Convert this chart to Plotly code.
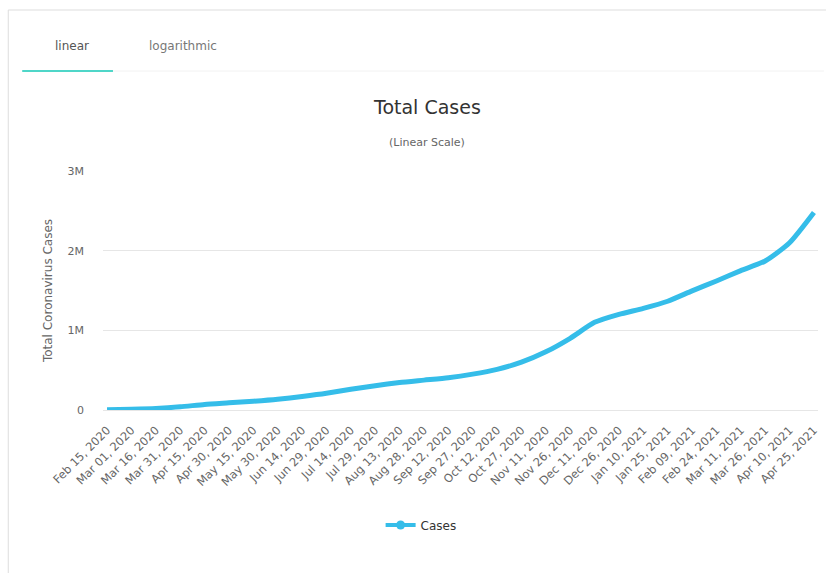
import plotly.graph_objects as go

# Cumulative cases at each 15-day tick date
dates = [
    "2020-02-15", "2020-03-01", "2020-03-16", "2020-03-31", "2020-04-15",
    "2020-04-30", "2020-05-15", "2020-05-30", "2020-06-14", "2020-06-29",
    "2020-07-14", "2020-07-29", "2020-08-13", "2020-08-28", "2020-09-12",
    "2020-09-27", "2020-10-12", "2020-10-27", "2020-11-11", "2020-11-26",
    "2020-12-11", "2020-12-26", "2021-01-10", "2021-01-25", "2021-02-09",
    "2021-02-24", "2021-03-11", "2021-03-26", "2021-04-10", "2021-04-25",
]
tick_labels = [
    "Feb 15, 2020", "Mar 01, 2020", "Mar 16, 2020", "Mar 31, 2020", "Apr 15, 2020",
    "Apr 30, 2020", "May 15, 2020", "May 30, 2020", "Jun 14, 2020", "Jun 29, 2020",
    "Jul 14, 2020", "Jul 29, 2020", "Aug 13, 2020", "Aug 28, 2020", "Sep 12, 2020",
    "Sep 27, 2020", "Oct 12, 2020", "Oct 27, 2020", "Nov 11, 2020", "Nov 26, 2020",
    "Dec 11, 2020", "Dec 26, 2020", "Jan 10, 2021", "Jan 25, 2021", "Feb 09, 2021",
    "Feb 24, 2021", "Mar 11, 2021", "Mar 26, 2021", "Apr 10, 2021", "Apr 25, 2021",
]
cases = [
    3000, 10000, 20000, 40000, 70000,
    90000, 110000, 135000, 170000, 210000,
    260000, 305000, 345000, 375000, 405000,
    450000, 510000, 600000, 730000, 900000,
    1100000, 1200000, 1275000, 1365000, 1495000,
    1620000, 1750000, 1870000, 2100000, 2480000,
]
y_ticks = [0, 1000000, 2000000, 3000000]
y_tick_labels = ["0", "1M", "2M", "3M"]

W, H = 826, 573
L, R, T, B = 103, 820, 171, 410  # plot area in pixels
LINE_COLOR = "#35bde9"
FONT = "DejaVu Sans"


def px(x):
    return (x - L) / (R - L)


def py(y):
    return (B - y) / (B - T)


fig = go.Figure()
fig.add_trace(go.Scatter(
    x=dates, y=cases, mode="lines", name="Cases", showlegend=False,
    line=dict(color=LINE_COLOR, width=5, shape="spline", smoothing=0.6),
    hoverinfo="x+y",
))
# legend entry with the line-and-dot symbol
fig.add_trace(go.Scatter(
    x=[None], y=[None], mode="lines+markers", name="Cases",
    line=dict(color=LINE_COLOR, width=4),
    marker=dict(color=LINE_COLOR, size=9),
))

fig.update_layout(
    width=W, height=H, autosize=False,
    margin=dict(l=L, r=W - R, t=T, b=H - B, pad=0),
    paper_bgcolor="white", plot_bgcolor="white",
    font=dict(family=FONT, color="#666666", size=11),
    showlegend=True,
    legend=dict(
        orientation="h", x=px(422), xanchor="center", y=py(525), yanchor="middle",
        font=dict(family=FONT, size=12, color="#333333"),
        itemwidth=30, bgcolor="rgba(0,0,0,0)",
    ),
    xaxis=dict(
        type="date", range=["2020-02-12 12:00", "2021-04-27 12:00"],
        tickmode="array", tickvals=dates, ticktext=tick_labels,
        tickangle=-45, tickfont=dict(size=11.5, color="#666666"),
        showgrid=False, zeroline=False,
        showline=True, linecolor="#e6e6e6", linewidth=1,
        ticks="", ticklabelstandoff=8,
    ),
    yaxis=dict(
        range=[0, 3000000], tickmode="array", tickvals=y_ticks, ticktext=y_tick_labels,
        showgrid=True, gridcolor="#e6e6e6", gridwidth=1, zeroline=False,
        tickfont=dict(size=11, color="#666666"), ticklabelstandoff=18,
        title=dict(text="Total Coronavirus Cases", standoff=12,
                   font=dict(size=12, color="#666666")),
    ),
)

annotations = [
    dict(text="Total Cases", x=px(428), y=py(107), font=dict(size=19, color="#333333")),
    dict(text="(Linear Scale)", x=px(428), y=py(143), font=dict(size=11, color="#666666")),
    dict(text="linear", x=px(72), y=py(46), font=dict(size=12, color="#555555")),
    dict(text="logarithmic", x=px(183), y=py(46), font=dict(size=12, color="#777777")),
]
for a in annotations:
    fig.add_annotation(xref="paper", yref="paper", showarrow=False,
                       xanchor="center", yanchor="middle", **a)

shapes = [
    # panel frame
    dict(type="line", x0=px(8), x1=px(830), y0=py(10), y1=py(10),
         line=dict(color="#dddddd", width=1)),
    dict(type="line", x0=px(8), x1=px(8), y0=py(10), y1=py(580),
         line=dict(color="#dddddd", width=1)),
    # tab strip separator and active tab underline
    dict(type="line", x0=px(22), x1=px(826), y0=py(71), y1=py(71),
         line=dict(color="#f2f2f2", width=1)),
    dict(type="line", x0=px(22), x1=px(113), y0=py(71), y1=py(71),
         line=dict(color="#4fd6c8", width=2)),
]
for s in shapes:
    fig.add_shape(xref="paper", yref="paper", layer="above", **s)

fig.write_html("out.html")
